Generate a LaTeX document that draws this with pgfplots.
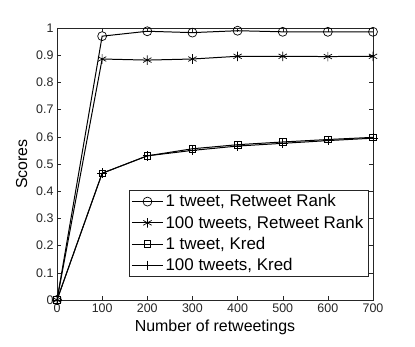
\documentclass[border=0pt]{standalone}
\usepackage{fontspec}
\setmainfont{Liberation Sans}
\usepackage{pgfplots}
\pgfplotsset{compat=1.18}
\definecolor{axgray}{gray}{0.15}
\begin{document}
\begin{tikzpicture}
\begin{axis}[
  scale only axis, width=316bp, height=272bp,
  xmin=0, xmax=700, ymin=0, ymax=1,
  xtick={0,100,...,700},
  ytick={0,0.1,...,1},
  tick align=inside,
  axis line style={axgray, line width=0.5pt},
  every tick/.style={axgray},
  tick label style={font=\fontsize{12.5}{14}\selectfont, text=axgray},
  /pgf/number format/assume math mode=true,
  xlabel={Number of retweetings},
  ylabel={Scores},
  label style={font=\fontsize{16}{18}\selectfont},
  xlabel style={yshift=-1pt},
  ylabel style={yshift=2pt},
  legend style={at={(0.984,0.085)}, anchor=south east, draw=axgray,
    font=\fontsize{17}{19}\selectfont, row sep=3.5pt, inner sep=2.5pt},
  legend cell align=left,
  legend image code/.code={
    \draw[mark repeat=2, mark phase=2] plot coordinates {(0cm,0cm) (0.55cm,0cm) (1.1cm,0cm)};},
  every axis plot/.append style={black, line width=1pt, mark options={solid, line width=0.7pt, fill=none}},
]
\addplot[mark=o, mark size=4.5pt] coordinates {
(0,0) (100,0.970) (200,0.988) (300,0.983) (400,0.990) (500,0.986) (600,0.986) (700,0.986)};
\addlegendentry{1 tweet, Retweet Rank}
\addplot[mark=asterisk, mark size=4.8pt] coordinates {
(0,0) (100,0.886) (200,0.882) (300,0.886) (400,0.896) (500,0.896) (600,0.895) (700,0.896)};
\addlegendentry{100 tweets, Retweet Rank}
\addplot[mark=square, mark size=3.3pt] coordinates {
(0,0) (100,0.466) (200,0.530) (300,0.556) (400,0.571) (500,0.581) (600,0.590) (700,0.598)};
\addlegendentry{1 tweet, Kred}
\addplot[mark=+, mark size=4.8pt] coordinates {
(0,0) (100,0.466) (200,0.530) (300,0.550) (400,0.566) (500,0.576) (600,0.586) (700,0.595)};
\addlegendentry{100 tweets, Kred}
\end{axis}
\path (current axis.south west) ++(-57bp,-46bp) coordinate (a);
\path (current axis.north east) ++(42bp,28bp) coordinate (b);
\path (a) rectangle (b);
\end{tikzpicture}
\end{document}
